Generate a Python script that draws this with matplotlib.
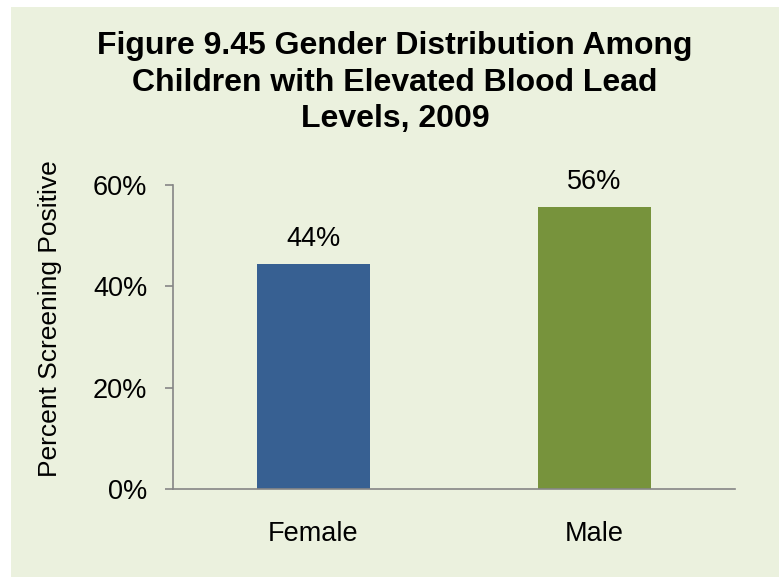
import matplotlib.pyplot as plt
from matplotlib.patches import Rectangle

genders = ["Female", "Male"]
percent_positive = [44.4, 55.6]
bar_labels = ["44%", "56%"]
yticks = [0, 20, 40, 60]
ytick_labels = ["0%", "20%", "40%", "60%"]

bg = '#EBF1DE'
colors = ['#376092', '#77933C']
grey = '#868686'

plt.rcParams['font.family'] = ['Liberation Sans', 'DejaVu Sans']

fig = plt.figure(figsize=(7.79, 5.77), dpi=100, facecolor='white')
# chart area (thin white strip on top and left edge)
fig.patches.append(Rectangle((11 / 779, 0), 1 - 11 / 779, 1 - 7 / 577,
                             transform=fig.transFigure, facecolor=bg,
                             edgecolor='none', zorder=-1))

ax = fig.add_axes([0.222, 0.1525, 0.7215, 0.5265], facecolor=bg)

x = range(len(genders))
bars = ax.bar(x, percent_positive, width=0.4, color=colors)

for bar, lab in zip(bars, bar_labels):
    ax.text(bar.get_x() + bar.get_width() / 2, bar.get_height() + 2.4, lab,
            ha='center', va='bottom', fontsize=19.5)

ax.set_xlim(-0.5, 1.5)
ax.set_ylim(0, 60)
ax.set_yticks(yticks)
ax.set_yticklabels(ytick_labels, fontsize=19.5)
ax.set_xticks(list(x))
ax.set_xticklabels(genders, fontsize=19.5)
ax.tick_params(axis='x', length=0, pad=23)
ax.tick_params(axis='y', length=6, color=grey, width=1.2, pad=12.5)

for side in ['top', 'right']:
    ax.spines[side].set_visible(False)
for side in ['left', 'bottom']:
    ax.spines[side].set_color(grey)
    ax.spines[side].set_linewidth(1.2)

fig.text(0.064, 0.448, 'Percent Screening Positive', rotation=90,
         ha='center', va='center', fontsize=19)

fig.text(0.507, 0.857, 'Figure 9.45 Gender Distribution Among\nChildren with Elevated Blood Lead\nLevels, 2009',
         ha='center', va='center', fontsize=23, fontweight='bold', linespacing=1.27)

fig.savefig('out.png', dpi=100, facecolor='white')
